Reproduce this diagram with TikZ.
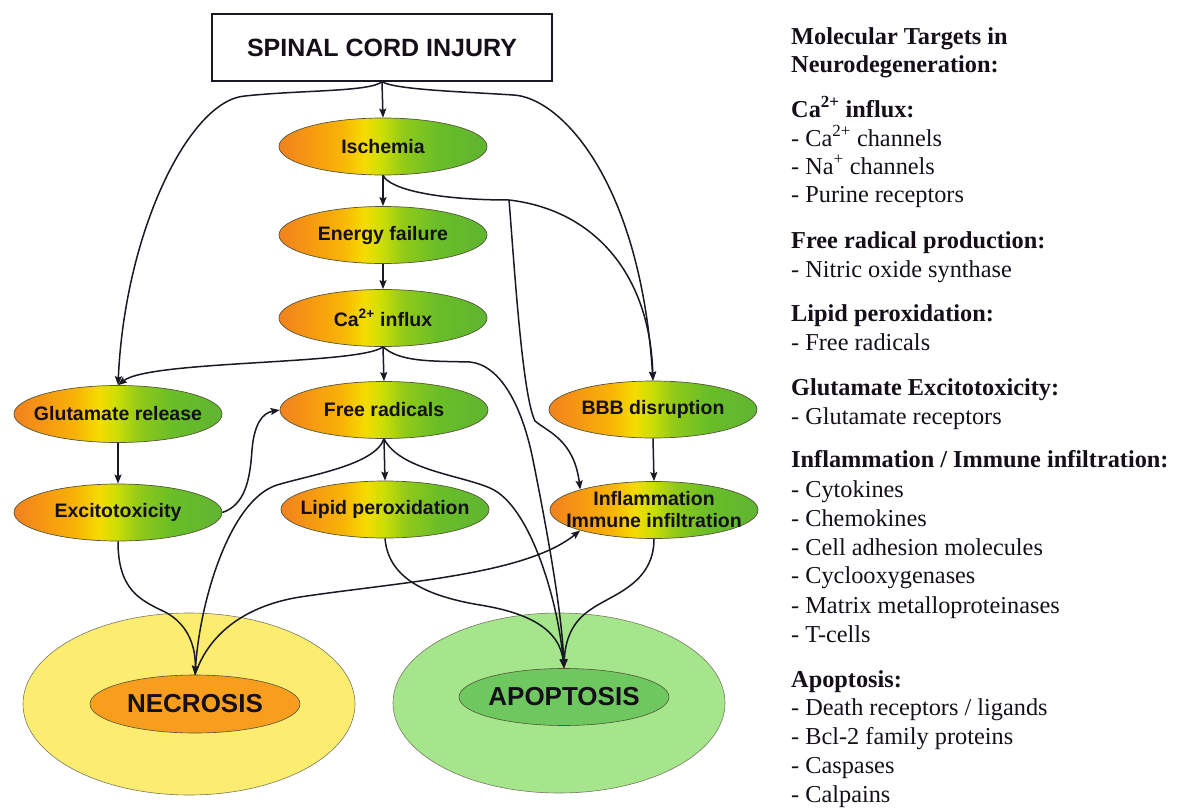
\documentclass[tikz,border=0pt]{standalone}
\usepackage{fontspec}
\setmainfont{Liberation Serif}
\newfontfamily\arialf{Liberation Sans}
\usetikzlibrary{arrows.meta,shapes.geometric}

\definecolor{linec}{RGB}{25,25,35}
\definecolor{bordc}{RGB}{85,85,55}
\definecolor{txtc}{RGB}{20,15,25}
\definecolor{necY}{RGB}{252,236,112}
\definecolor{necO}{RGB}{247,158,30}
\definecolor{apoL}{RGB}{165,230,140}
\definecolor{apoG}{RGB}{110,200,95}
\definecolor{bigb}{RGB}{120,120,95}
\definecolor{ogA}{RGB}{240,130,30}
\definecolor{ogB}{RGB}{246,148,20}
\definecolor{ogC}{RGB}{248,180,5}
\definecolor{ogD}{RGB}{245,220,0}
\definecolor{ogE}{RGB}{205,222,5}
\definecolor{ogF}{RGB}{145,202,25}
\definecolor{ogG}{RGB}{105,190,40}
\definecolor{ogH}{RGB}{95,180,50}

\pgfdeclarehorizontalshading{ogy}{100bp}{color(0bp)=(ogA); color(25bp)=(ogA); color(31bp)=(ogB); color(40bp)=(ogC); color(45.5bp)=(ogD); color(49.5bp)=(ogE); color(55bp)=(ogF); color(63bp)=(ogG); color(75bp)=(ogH); color(100bp)=(ogH)}

\newcommand\ovalfont{\arialf\bfseries\fontsize{19.5}{22}\selectfont}
\newcommand\bigovalfont{\arialf\bfseries\fontsize{26}{30}\selectfont}
\newcommand\scifont{\arialf\bfseries\fontsize{25}{30}\selectfont}
\newcommand\rtfont{\fontsize{24.3}{29}\selectfont}

\tikzset{
  arr/.style={draw=linec, line width=1.5pt, -{Stealth[length=9pt,width=7pt,inset=1.5pt]}},
  olabel/.style={font=\ovalfont, text=txtc, align=center, inner sep=0pt},
  oval/.style={ellipse, draw=bordc, line width=0.7pt, shading=ogy,
    minimum width=208pt, minimum height=57pt, inner sep=0pt,
    label={[olabel]center:#1}},
  bigoval/.style={ellipse, draw=bigb, line width=0.6pt, inner sep=0pt},
  blabel/.style={font=\bigovalfont, text=txtc, inner sep=0pt},
  rt/.style={font=\rtfont, text=txtc, anchor=base west, inner sep=0pt},
}

\begin{document}
\begin{tikzpicture}[x=1pt,y=-1pt]
\useasboundingbox (0,0) rectangle (1178,808);

% big outcome ellipses
\node[bigoval, fill=necY, minimum width=332pt, minimum height=182pt] (necBig) at (189,704) {};
\node[bigoval, fill=apoL, minimum width=332pt, minimum height=180pt] (apoBig) at (559,703) {};
\node[bigoval, fill=necO, draw=bordc, minimum width=210pt, minimum height=58pt,
      label={[blabel]center:NECROSIS}] (nec) at (195,704) {};
\node[bigoval, fill=apoG, draw=bordc, minimum width=210pt, minimum height=57pt,
      label={[blabel]center:APOPTOSIS}] (apo) at (564,697) {};

% top box
\node[draw=linec, line width=1.4pt, fill=white, minimum width=340pt, minimum height=67pt,
      inner sep=0pt, font=\scifont, text=txtc] (sci) at (382,47.5) {SPINAL CORD INJURY};

% mechanism ellipses
\node[oval={Ischemia}] (isch) at (383,146.5) {};
\node[oval={Energy failure}] (energy) at (383,235) {};
\node[oval={Ca\textsuperscript{2+} influx}] (ca) at (383,318) {};
\node[oval={Glutamate release}] (glut) at (118,414) {};
\node[oval={Free radicals}] (free) at (384,410) {};
\node[oval={BBB disruption}] (bbb) at (653,409.5) {};
\node[oval={Excitotoxicity}] (exc) at (118,512.5) {};
\node[oval={Lipid peroxidation}] (lipid) at (385,509.5) {};
\node[oval={Inflammation\\Immune infiltration}] (infl) at (654,510) {};

\coordinate (j1) at (509,200);

% connectors
\draw[arr] (sci.south) -- (isch.north);
\draw[arr] (sci.south) .. controls (370,92) and (300,90) .. (245,96)
  .. controls (190,100) and (125,230) .. (glut.north);
\draw[arr] (sci.south) .. controls (395,90) and (470,92) .. (513,95)
  .. controls (560,97) and (640,180) .. (bbb.north);
\draw[arr] (isch.south) -- (energy.north);
\draw[draw=linec, line width=1.5pt] (isch.south) .. controls (390,190) and (440,200) .. (j1);
\draw[arr] (j1) .. controls (595,210) and (650,275) .. (bbb.north);
\draw[arr] (j1) .. controls (514,260) and (522,395) .. (535,421)
  .. controls (548,432) and (574,440) .. (infl.north west);
\draw[arr] (energy.south) -- (ca.north);
\draw[arr] (ca.south) .. controls (360,365) and (150,360) .. (glut.north);
\draw[arr] (ca.south) -- (free.north);
\draw[arr] (ca.south) .. controls (400,362) and (430,361) .. (470,362)
  .. controls (500,365) and (522,405) .. (533,460)
  .. controls (545,520) and (562,610) .. (apo.north);
\draw[arr] (glut.south) -- (exc.north);
\draw[arr] (exc.east) .. controls (245,505) and (250,480) .. (252,450)
  .. controls (254,425) and (262,413) .. (free.west);
\draw[arr] (free.south) -- (lipid.north);
\draw[arr] (free.south) .. controls (375,465) and (310,475) .. (277,485)
  .. controls (230,500) and (200,600) .. (nec.north);
\draw[arr] (free.south) .. controls (400,470) and (460,475) .. (490,488)
  .. controls (530,505) and (558,600) .. (apo.north);
\draw[arr] (exc.south) .. controls (118,590) and (140,600) .. (165,612)
  .. controls (190,625) and (196,650) .. (nec.north);
\draw[arr] (nec.north) .. controls (210,630) and (250,605) .. (300,597)
  .. controls (400,582) and (525,575) .. (infl.south west);
\draw[arr] (lipid.south) .. controls (388,575) and (420,595) .. (480,605)
  .. controls (530,613) and (560,630) .. (apo.north);
\draw[arr] (infl.south) .. controls (654,585) and (610,595) .. (590,610)
  .. controls (572,622) and (565,640) .. (apo.north);
\draw[arr] (bbb.south) -- (infl.north);

% right-hand text
\node[rt] (r1) at (791,45) {\textbf{Molecular Targets in}};
\node[rt] (r2) at (791,73) {\textbf{Neurodegeneration:}};
\node[rt] (r3) at (791,117) {\textbf{Ca\textsuperscript{2+} influx:}};
\node[rt] (r4) at (791,146) {- Ca\textsuperscript{2+} channels};
\node[rt] (r5) at (791,174) {- Na\textsuperscript{+} channels};
\node[rt] (r6) at (791,202) {- Purine receptors};
\node[rt] (r7) at (791,248) {\textbf{Free radical production:}};
\node[rt] (r8) at (791,277) {- Nitric oxide synthase};
\node[rt] (r9) at (791,321) {\textbf{Lipid peroxidation:}};
\node[rt] (r10) at (791,350) {- Free radicals};
\node[rt] (r11) at (791,395) {\textbf{Glutamate Excitotoxicity:}};
\node[rt] (r12) at (791,424) {- Glutamate receptors};
\node[rt] (r13) at (791,467) {\textbf{Inflammation / Immune infiltration:}};
\node[rt] (r14) at (791,497) {- Cytokines};
\node[rt] (r15) at (791,526) {- Chemokines};
\node[rt] (r16) at (791,555) {- Cell adhesion molecules};
\node[rt] (r17) at (791,583) {- Cyclooxygenases};
\node[rt] (r18) at (791,613) {- Matrix metalloproteinases};
\node[rt] (r19) at (791,642) {- T-cells};
\node[rt] (r20) at (791,687) {\textbf{Apoptosis:}};
\node[rt] (r21) at (791,715) {- Death receptors / ligands};
\node[rt] (r22) at (791,744) {- Bcl-2 family proteins};
\node[rt] (r23) at (791,773) {- Caspases};
\node[rt] (r24) at (791,802) {- Calpains};
\end{tikzpicture}
\end{document}
